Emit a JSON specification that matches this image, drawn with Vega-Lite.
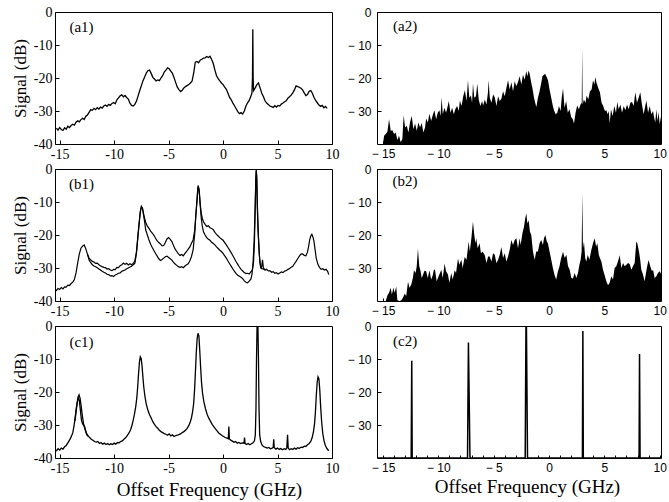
{
"$schema": "https://vega.github.io/schema/vega-lite/v6.json",
"padding": {"left": 10, "top": 4, "right": 0, "bottom": 5},
"columns": 2,
"align": "each",
"bounds": "flush",
"spacing": {"row": 25, "column": 45},
"config": {
 "view": {"stroke": "black", "strokeWidth": 1},
 "axis": {"domain": false, "grid": false, "tickColor": "black", "labelColor": "black", "titleColor": "black", "labelFlush": false, "labelOverlap": false, "titleFontWeight": "normal"}
},
"datasets": {
"a1": [
{"f":-15.3,"s":-35.2},{"f":-15.15,"s":-35.8},{"f":-15.0,"s":-35.0},{"f":-14.85,"s":-35.6},{"f":-14.7,"s":-35.9},{"f":-14.55,"s":-35.1},{"f":-14.4,"s":-35.5},{"f":-14.25,"s":-34.6},{"f":-14.1,"s":-35.0},{"f":-13.95,"s":-34.4},{"f":-13.8,"s":-34.0},{"f":-13.65,"s":-34.3},{"f":-13.5,"s":-33.4},{"f":-13.35,"s":-33.0},{"f":-13.2,"s":-33.3},{"f":-13.05,"s":-32.6},{"f":-12.9,"s":-32.2},{"f":-12.75,"s":-32.6},{"f":-12.6,"s":-31.6},{"f":-12.45,"s":-31.2},{"f":-12.3,"s":-30.4},{"f":-12.15,"s":-29.6},{"f":-12.0,"s":-29.8},{"f":-11.85,"s":-29.2},{"f":-11.7,"s":-29.6},{"f":-11.55,"s":-29.0},{"f":-11.4,"s":-29.4},{"f":-11.25,"s":-28.8},{"f":-11.1,"s":-29.1},{"f":-10.95,"s":-28.5},{"f":-10.8,"s":-28.2},{"f":-10.65,"s":-28.6},{"f":-10.5,"s":-28.0},{"f":-10.35,"s":-28.3},{"f":-10.2,"s":-27.7},{"f":-10.05,"s":-27.4},{"f":-9.9,"s":-27.8},{"f":-9.75,"s":-26.6},{"f":-9.6,"s":-26.0},{"f":-9.45,"s":-25.4},{"f":-9.3,"s":-25.1},{"f":-9.15,"s":-25.7},{"f":-9.0,"s":-25.3},{"f":-8.85,"s":-25.9},{"f":-8.7,"s":-26.4},{"f":-8.55,"s":-27.6},{"f":-8.4,"s":-28.3},{"f":-8.25,"s":-28.5},{"f":-8.1,"s":-28.0},{"f":-7.95,"s":-27.0},{"f":-7.8,"s":-25.4},{"f":-7.65,"s":-23.8},{"f":-7.5,"s":-22.3},{"f":-7.35,"s":-20.8},{"f":-7.2,"s":-19.7},{"f":-7.05,"s":-18.5},{"f":-6.9,"s":-17.8},{"f":-6.75,"s":-17.6},{"f":-6.6,"s":-18.6},{"f":-6.45,"s":-19.8},{"f":-6.3,"s":-20.3},{"f":-6.15,"s":-20.9},{"f":-6.0,"s":-20.6},{"f":-5.85,"s":-20.8},{"f":-5.7,"s":-20.0},{"f":-5.55,"s":-19.3},{"f":-5.4,"s":-18.2},{"f":-5.25,"s":-17.6},{"f":-5.1,"s":-16.9},{"f":-4.95,"s":-17.2},{"f":-4.8,"s":-17.9},{"f":-4.65,"s":-18.6},{"f":-4.5,"s":-19.9},{"f":-4.35,"s":-21.4},{"f":-4.2,"s":-22.8},{"f":-4.05,"s":-23.5},{"f":-3.9,"s":-24.1},{"f":-3.75,"s":-23.7},{"f":-3.6,"s":-23.0},{"f":-3.45,"s":-22.6},{"f":-3.3,"s":-22.3},{"f":-3.15,"s":-22.0},{"f":-3.0,"s":-21.5},{"f":-2.85,"s":-21.0},{"f":-2.7,"s":-18.5},{"f":-2.55,"s":-15.2},{"f":-2.4,"s":-15.0},{"f":-2.25,"s":-15.4},{"f":-2.1,"s":-14.6},{"f":-1.95,"s":-14.3},{"f":-1.8,"s":-14.0},{"f":-1.65,"s":-13.9},{"f":-1.5,"s":-13.5},{"f":-1.35,"s":-13.8},{"f":-1.2,"s":-13.4},{"f":-1.05,"s":-14.4},{"f":-0.9,"s":-15.6},{"f":-0.75,"s":-17.6},{"f":-0.6,"s":-19.3},{"f":-0.45,"s":-20.2},{"f":-0.3,"s":-20.9},{"f":-0.15,"s":-21.5},{"f":0.0,"s":-22.0},{"f":0.15,"s":-22.8},{"f":0.3,"s":-23.4},{"f":0.45,"s":-24.6},{"f":0.6,"s":-25.9},{"f":0.75,"s":-26.6},{"f":0.9,"s":-27.6},{"f":1.05,"s":-28.4},{"f":1.2,"s":-29.3},{"f":1.35,"s":-30.2},{"f":1.5,"s":-30.8},{"f":1.65,"s":-30.5},{"f":1.8,"s":-30.9},{"f":1.95,"s":-30.0},{"f":2.1,"s":-28.5},{"f":2.25,"s":-27.5},{"f":2.4,"s":-26.8},{"f":2.55,"s":-25.5},{"f":2.65,"s":-24.6},{"f":2.7,"s":-20.0},{"f":2.73,"s":-5.2},{"f":2.76,"s":-20.0},{"f":2.8,"s":-23.8},{"f":2.95,"s":-23.0},{"f":3.1,"s":-22.0},{"f":3.25,"s":-21.5},{"f":3.4,"s":-23.0},{"f":3.55,"s":-24.6},{"f":3.7,"s":-25.6},{"f":3.85,"s":-26.9},{"f":4.0,"s":-27.6},{"f":4.15,"s":-28.0},{"f":4.3,"s":-28.5},{"f":4.45,"s":-28.7},{"f":4.6,"s":-28.9},{"f":4.75,"s":-28.4},{"f":4.9,"s":-28.8},{"f":5.05,"s":-28.3},{"f":5.2,"s":-28.5},{"f":5.35,"s":-27.9},{"f":5.5,"s":-27.6},{"f":5.65,"s":-27.2},{"f":5.8,"s":-26.9},{"f":5.95,"s":-26.1},{"f":6.1,"s":-25.7},{"f":6.25,"s":-25.2},{"f":6.4,"s":-24.5},{"f":6.55,"s":-23.6},{"f":6.7,"s":-22.4},{"f":6.85,"s":-22.6},{"f":7.0,"s":-22.8},{"f":7.15,"s":-23.1},{"f":7.3,"s":-23.6},{"f":7.45,"s":-24.5},{"f":7.6,"s":-25.3},{"f":7.75,"s":-25.0},{"f":7.9,"s":-24.0},{"f":8.05,"s":-23.8},{"f":8.2,"s":-24.6},{"f":8.35,"s":-25.9},{"f":8.5,"s":-26.8},{"f":8.65,"s":-27.5},{"f":8.8,"s":-28.2},{"f":8.95,"s":-28.6},{"f":9.1,"s":-28.3},{"f":9.25,"s":-29.0},{"f":9.4,"s":-28.6},{"f":9.55,"s":-29.2}
],
"a2": [
{"f":-15.6,"s":-40},{"f":-15.0,"s":-40},{"f":-14.9,"s":-37.5},{"f":-14.75,"s":-37.0},{"f":-14.6,"s":-36.3},{"f":-14.45,"s":-32.5},{"f":-14.3,"s":-36.0},{"f":-14.15,"s":-35.8},{"f":-14.0,"s":-37.0},{"f":-13.85,"s":-36.5},{"f":-13.7,"s":-38.8},{"f":-13.55,"s":-37.5},{"f":-13.4,"s":-39.5},{"f":-13.25,"s":-38.5},{"f":-13.13,"s":-31.3},{"f":-13.0,"s":-35.0},{"f":-12.85,"s":-34.5},{"f":-12.7,"s":-36.5},{"f":-12.55,"s":-33.3},{"f":-12.4,"s":-31.5},{"f":-12.25,"s":-35.5},{"f":-12.1,"s":-33.8},{"f":-11.95,"s":-36.0},{"f":-11.8,"s":-33.5},{"f":-11.65,"s":-35.0},{"f":-11.5,"s":-33.6},{"f":-11.35,"s":-36.5},{"f":-11.2,"s":-35.0},{"f":-11.1,"s":-32.3},{"f":-10.95,"s":-33.5},{"f":-10.8,"s":-30.8},{"f":-10.65,"s":-33.0},{"f":-10.5,"s":-31.2},{"f":-10.35,"s":-29.8},{"f":-10.2,"s":-32.5},{"f":-10.05,"s":-30.5},{"f":-9.9,"s":-29.8},{"f":-9.8,"s":-31.5},{"f":-9.7,"s":-25.8},{"f":-9.6,"s":-31.0},{"f":-9.45,"s":-29.0},{"f":-9.3,"s":-30.5},{"f":-9.15,"s":-28.5},{"f":-9.05,"s":-27.0},{"f":-8.9,"s":-30.5},{"f":-8.75,"s":-29.0},{"f":-8.6,"s":-31.0},{"f":-8.45,"s":-29.3},{"f":-8.3,"s":-28.5},{"f":-8.15,"s":-30.0},{"f":-8.05,"s":-26.8},{"f":-7.9,"s":-28.5},{"f":-7.75,"s":-25.5},{"f":-7.6,"s":-23.7},{"f":-7.45,"s":-27.0},{"f":-7.32,"s":-20.7},{"f":-7.2,"s":-26.0},{"f":-7.05,"s":-25.3},{"f":-6.95,"s":-27.5},{"f":-6.87,"s":-21.7},{"f":-6.75,"s":-26.0},{"f":-6.6,"s":-25.5},{"f":-6.48,"s":-21.7},{"f":-6.35,"s":-26.5},{"f":-6.2,"s":-28.5},{"f":-6.05,"s":-27.0},{"f":-5.95,"s":-28.3},{"f":-5.8,"s":-26.5},{"f":-5.65,"s":-28.0},{"f":-5.52,"s":-24.5},{"f":-5.45,"s":-20.7},{"f":-5.35,"s":-26.0},{"f":-5.2,"s":-27.5},{"f":-5.05,"s":-25.0},{"f":-4.9,"s":-25.8},{"f":-4.75,"s":-28.5},{"f":-4.6,"s":-25.5},{"f":-4.45,"s":-27.0},{"f":-4.3,"s":-26.3},{"f":-4.15,"s":-24.0},{"f":-4.0,"s":-25.5},{"f":-3.85,"s":-23.0},{"f":-3.7,"s":-20.7},{"f":-3.55,"s":-23.5},{"f":-3.4,"s":-21.3},{"f":-3.25,"s":-24.0},{"f":-3.1,"s":-21.0},{"f":-2.95,"s":-22.5},{"f":-2.8,"s":-21.2},{"f":-2.65,"s":-19.5},{"f":-2.5,"s":-22.0},{"f":-2.35,"s":-19.0},{"f":-2.2,"s":-20.5},{"f":-2.05,"s":-17.9},{"f":-1.95,"s":-19.5},{"f":-1.85,"s":-17.7},{"f":-1.75,"s":-18.7},{"f":-1.6,"s":-21.5},{"f":-1.5,"s":-23.0},{"f":-1.36,"s":-25.8},{"f":-1.25,"s":-27.5},{"f":-1.14,"s":-28.8},{"f":-1.0,"s":-26.0},{"f":-0.85,"s":-24.0},{"f":-0.7,"s":-21.5},{"f":-0.6,"s":-19.5},{"f":-0.5,"s":-19.2},{"f":-0.35,"s":-18.7},{"f":-0.2,"s":-19.8},{"f":-0.09,"s":-20.7},{"f":0.05,"s":-23.5},{"f":0.2,"s":-26.0},{"f":0.35,"s":-28.5},{"f":0.45,"s":-29.8},{"f":0.6,"s":-31.0},{"f":0.75,"s":-30.5},{"f":0.9,"s":-28.5},{"f":1.05,"s":-30.0},{"f":1.15,"s":-26.0},{"f":1.27,"s":-23.2},{"f":1.4,"s":-29.0},{"f":1.55,"s":-27.0},{"f":1.7,"s":-30.5},{"f":1.85,"s":-29.5},{"f":2.0,"s":-31.8},{"f":2.15,"s":-32.5},{"f":2.26,"s":-33.8},{"f":2.4,"s":-30.5},{"f":2.55,"s":-28.3},{"f":2.7,"s":-29.5},{"f":2.85,"s":-28.0},{"f":2.96,"s":-27.5},{"f":3.0,"s":-10.7},{"f":3.04,"s":-28.0},{"f":3.15,"s":-26.5},{"f":3.3,"s":-27.5},{"f":3.4,"s":-25.3},{"f":3.55,"s":-26.5},{"f":3.7,"s":-24.0},{"f":3.85,"s":-23.5},{"f":3.98,"s":-20.7},{"f":4.1,"s":-22.0},{"f":4.19,"s":-19.7},{"f":4.3,"s":-21.5},{"f":4.45,"s":-23.0},{"f":4.6,"s":-24.3},{"f":4.75,"s":-27.5},{"f":4.9,"s":-28.5},{"f":5.05,"s":-30.0},{"f":5.18,"s":-29.8},{"f":5.3,"s":-31.0},{"f":5.4,"s":-30.0},{"f":5.48,"s":-33.8},{"f":5.6,"s":-29.5},{"f":5.75,"s":-31.5},{"f":5.9,"s":-28.5},{"f":6.05,"s":-30.5},{"f":6.17,"s":-27.3},{"f":6.3,"s":-29.5},{"f":6.45,"s":-28.0},{"f":6.6,"s":-30.5},{"f":6.75,"s":-28.5},{"f":6.9,"s":-29.8},{"f":7.05,"s":-28.0},{"f":7.2,"s":-29.5},{"f":7.35,"s":-27.5},{"f":7.5,"s":-27.3},{"f":7.65,"s":-28.5},{"f":7.8,"s":-24.3},{"f":7.95,"s":-27.5},{"f":8.1,"s":-26.0},{"f":8.25,"s":-24.3},{"f":8.4,"s":-28.0},{"f":8.55,"s":-31.0},{"f":8.7,"s":-28.5},{"f":8.8,"s":-26.8},{"f":8.95,"s":-30.5},{"f":9.1,"s":-28.5},{"f":9.25,"s":-31.0},{"f":9.4,"s":-30.0},{"f":9.49,"s":-31.8},{"f":9.6,"s":-33.5},{"f":9.7,"s":-29.5},{"f":9.8,"s":-33.0},{"f":9.9,"s":-30.3},{"f":10.0,"s":-34.0},{"f":10.15,"s":-31.0}
],
"b1": [
{"k":"u","f":-15.45,"s":-36.6},{"k":"u","f":-15.3,"s":-36.8},{"k":"u","f":-15.15,"s":-36.2},{"k":"u","f":-15.0,"s":-36.5},{"k":"u","f":-14.85,"s":-35.9},{"k":"u","f":-14.7,"s":-36.3},{"k":"u","f":-14.55,"s":-35.7},{"k":"u","f":-14.4,"s":-35.8},{"k":"u","f":-14.25,"s":-35.2},{"k":"u","f":-14.1,"s":-35.3},{"k":"u","f":-13.95,"s":-34.7},{"k":"u","f":-13.8,"s":-34.3},{"k":"u","f":-13.65,"s":-33.5},{"k":"u","f":-13.5,"s":-31.5},{"k":"u","f":-13.35,"s":-28.5},{"k":"u","f":-13.2,"s":-25.8},{"k":"u","f":-13.05,"s":-24.0},{"k":"u","f":-12.9,"s":-23.4},{"k":"u","f":-12.75,"s":-23.0},{"k":"u","f":-12.6,"s":-24.2},{"k":"u","f":-12.45,"s":-25.8},
{"k":"u","f":-12.3,"s":-27.0},{"k":"u","f":-12.15,"s":-27.6},{"k":"u","f":-12.0,"s":-28.0},{"k":"u","f":-11.85,"s":-28.2},{"k":"u","f":-11.7,"s":-28.6},{"k":"u","f":-11.55,"s":-28.5},{"k":"u","f":-11.4,"s":-29.0},{"k":"u","f":-11.25,"s":-29.3},{"k":"u","f":-11.1,"s":-29.6},{"k":"u","f":-10.95,"s":-29.8},{"k":"u","f":-10.8,"s":-29.9},{"k":"u","f":-10.65,"s":-30.3},{"k":"u","f":-10.5,"s":-30.2},{"k":"u","f":-10.35,"s":-30.6},{"k":"u","f":-10.2,"s":-30.8},{"k":"u","f":-10.05,"s":-30.4},{"k":"u","f":-9.9,"s":-30.5},{"k":"u","f":-9.75,"s":-29.8},{"k":"u","f":-9.6,"s":-29.9},{"k":"u","f":-9.45,"s":-29.3},{"k":"u","f":-9.3,"s":-29.0},{"k":"u","f":-9.15,"s":-28.5},{"k":"u","f":-9.0,"s":-28.9},{"k":"u","f":-8.85,"s":-28.6},{"k":"u","f":-8.7,"s":-29.1},{"k":"u","f":-8.55,"s":-28.7},{"k":"u","f":-8.4,"s":-29.0},{"k":"u","f":-8.25,"s":-28.6},{"k":"u","f":-8.1,"s":-27.9},
{"k":"u","f":-7.95,"s":-25.0},{"k":"u","f":-7.8,"s":-19.5},{"k":"u","f":-7.7,"s":-16.0},{"k":"u","f":-7.6,"s":-13.0},{"k":"u","f":-7.5,"s":-11.5},{"k":"u","f":-7.4,"s":-11.8},{"k":"u","f":-7.3,"s":-13.5},{"k":"u","f":-7.2,"s":-15.0},
{"k":"u","f":-7.1,"s":-16.2},{"k":"u","f":-6.95,"s":-17.3},{"k":"u","f":-6.8,"s":-18.0},{"k":"u","f":-6.65,"s":-18.8},{"k":"u","f":-6.5,"s":-19.4},{"k":"u","f":-6.35,"s":-20.1},{"k":"u","f":-6.2,"s":-21.0},{"k":"u","f":-6.05,"s":-21.8},{"k":"u","f":-5.9,"s":-22.3},{"k":"u","f":-5.75,"s":-22.7},{"k":"u","f":-5.6,"s":-23.3},{"k":"u","f":-5.45,"s":-23.2},{"k":"u","f":-5.3,"s":-22.3},{"k":"u","f":-5.15,"s":-21.2},{"k":"u","f":-5.0,"s":-20.8},{"k":"u","f":-4.85,"s":-21.3},{"k":"u","f":-4.7,"s":-22.0},{"k":"u","f":-4.55,"s":-23.2},{"k":"u","f":-4.4,"s":-24.3},{"k":"u","f":-4.25,"s":-25.0},{"k":"u","f":-4.1,"s":-25.7},{"k":"u","f":-3.95,"s":-26.2},{"k":"u","f":-3.8,"s":-25.9},{"k":"u","f":-3.65,"s":-26.3},{"k":"u","f":-3.5,"s":-25.6},{"k":"u","f":-3.35,"s":-25.0},{"k":"u","f":-3.2,"s":-24.3},{"k":"u","f":-3.05,"s":-23.6},{"k":"u","f":-2.9,"s":-22.5},{"k":"u","f":-2.75,"s":-21.5},{"k":"u","f":-2.6,"s":-18.5},{"k":"u","f":-2.5,"s":-14.0},{"k":"u","f":-2.4,"s":-10.0},{"k":"u","f":-2.3,"s":-5.5},{"k":"u","f":-2.2,"s":-6.5},{"k":"u","f":-2.1,"s":-10.5},{"k":"u","f":-2.0,"s":-13.5},{"k":"u","f":-1.9,"s":-15.0},{"k":"u","f":-1.8,"s":-16.0},{"k":"u","f":-1.65,"s":-16.8},{"k":"u","f":-1.5,"s":-17.4},{"k":"u","f":-1.35,"s":-17.2},{"k":"u","f":-1.2,"s":-17.8},{"k":"u","f":-1.05,"s":-18.0},{"k":"u","f":-0.9,"s":-18.4},{"k":"u","f":-0.75,"s":-19.2},{"k":"u","f":-0.6,"s":-19.8},{"k":"u","f":-0.45,"s":-20.3},{"k":"u","f":-0.3,"s":-20.8},{"k":"u","f":-0.15,"s":-21.2},{"k":"u","f":0.0,"s":-21.6},{"k":"u","f":0.15,"s":-22.3},{"k":"u","f":0.3,"s":-23.0},{"k":"u","f":0.45,"s":-23.8},{"k":"u","f":0.6,"s":-24.6},{"k":"u","f":0.75,"s":-25.4},{"k":"u","f":0.9,"s":-26.3},{"k":"u","f":1.05,"s":-27.2},{"k":"u","f":1.2,"s":-28.1},{"k":"u","f":1.35,"s":-28.9},{"k":"u","f":1.5,"s":-29.7},{"k":"u","f":1.65,"s":-30.4},{"k":"u","f":1.8,"s":-30.9},{"k":"u","f":1.95,"s":-31.4},{"k":"u","f":2.1,"s":-31.7},{"k":"u","f":2.25,"s":-31.6},{"k":"u","f":2.4,"s":-31.8},{"k":"u","f":2.55,"s":-31.2},{"k":"u","f":2.7,"s":-30.6},{"k":"u","f":2.8,"s":-28.0},{"k":"u","f":2.88,"s":-22.0},{"k":"u","f":2.95,"s":-12.0},{"k":"u","f":3.0,"s":-3.0},{"k":"u","f":3.04,"s":-0.5},{"k":"u","f":3.08,"s":-2.0},{"k":"u","f":3.13,"s":-10.0},{"k":"u","f":3.2,"s":-18.0},{"k":"u","f":3.28,"s":-23.0},{"k":"u","f":3.36,"s":-27.5},{"k":"u","f":3.45,"s":-29.5},{"k":"u","f":3.55,"s":-30.2},{"k":"u","f":3.7,"s":-30.3},
{"k":"u","f":3.85,"s":-30.6},{"k":"u","f":4.0,"s":-30.4},{"k":"u","f":4.15,"s":-30.9},{"k":"u","f":4.3,"s":-30.8},{"k":"u","f":4.45,"s":-31.3},{"k":"u","f":4.6,"s":-31.1},{"k":"u","f":4.75,"s":-31.6},{"k":"u","f":4.9,"s":-31.4},{"k":"u","f":5.05,"s":-31.8},{"k":"u","f":5.2,"s":-31.5},{"k":"u","f":5.35,"s":-31.2},{"k":"u","f":5.5,"s":-31.4},{"k":"u","f":5.65,"s":-30.9},{"k":"u","f":5.8,"s":-30.8},{"k":"u","f":5.95,"s":-30.4},{"k":"u","f":6.1,"s":-30.2},{"k":"u","f":6.25,"s":-29.8},{"k":"u","f":6.4,"s":-29.5},{"k":"u","f":6.55,"s":-28.7},{"k":"u","f":6.7,"s":-28.0},{"k":"u","f":6.85,"s":-27.2},{"k":"u","f":7.0,"s":-26.4},{"k":"u","f":7.15,"s":-25.8},{"k":"u","f":7.3,"s":-25.7},{"k":"u","f":7.45,"s":-26.2},{"k":"u","f":7.6,"s":-26.3},{"k":"u","f":7.75,"s":-25.2},{"k":"u","f":7.85,"s":-23.5},{"k":"u","f":7.95,"s":-21.5},{"k":"u","f":8.05,"s":-20.3},{"k":"u","f":8.15,"s":-19.8},{"k":"u","f":8.25,"s":-20.6},{"k":"u","f":8.35,"s":-22.0},{"k":"u","f":8.45,"s":-24.5},{"k":"u","f":8.55,"s":-27.0},{"k":"u","f":8.7,"s":-28.8},{"k":"u","f":8.85,"s":-29.8},{"k":"u","f":9.0,"s":-30.4},{"k":"u","f":9.15,"s":-30.2},{"k":"u","f":9.3,"s":-30.6},{"k":"u","f":9.45,"s":-30.4},{"k":"u","f":9.6,"s":-31.0},{"k":"u","f":9.7,"s":-32.0},
{"k":"l","f":-12.45,"s":-25.8},{"k":"l","f":-12.3,"s":-27.6},{"k":"l","f":-12.15,"s":-28.4},{"k":"l","f":-12.0,"s":-29.0},{"k":"l","f":-11.85,"s":-29.4},{"k":"l","f":-11.7,"s":-29.6},{"k":"l","f":-11.55,"s":-29.9},{"k":"l","f":-11.4,"s":-30.3},{"k":"l","f":-11.25,"s":-30.6},{"k":"l","f":-11.1,"s":-31.0},{"k":"l","f":-10.95,"s":-31.3},{"k":"l","f":-10.8,"s":-31.5},{"k":"l","f":-10.65,"s":-31.9},{"k":"l","f":-10.5,"s":-32.0},{"k":"l","f":-10.35,"s":-32.4},{"k":"l","f":-10.2,"s":-32.3},{"k":"l","f":-10.05,"s":-32.6},{"k":"l","f":-9.9,"s":-32.1},{"k":"l","f":-9.75,"s":-31.9},{"k":"l","f":-9.6,"s":-31.6},{"k":"l","f":-9.45,"s":-31.5},{"k":"l","f":-9.3,"s":-31.0},{"k":"l","f":-9.15,"s":-30.8},{"k":"l","f":-9.0,"s":-30.6},{"k":"l","f":-8.85,"s":-30.2},{"k":"l","f":-8.7,"s":-30.0},{"k":"l","f":-8.55,"s":-29.7},{"k":"l","f":-8.4,"s":-29.5},{"k":"l","f":-8.25,"s":-29.0},{"k":"l","f":-8.1,"s":-28.6},
{"k":"l","f":-7.95,"s":-25.5},{"k":"l","f":-7.8,"s":-20.0},{"k":"l","f":-7.7,"s":-16.5},{"k":"l","f":-7.6,"s":-13.0},{"k":"l","f":-7.5,"s":-11.3},{"k":"l","f":-7.4,"s":-12.0},{"k":"l","f":-7.3,"s":-14.0},{"k":"l","f":-7.2,"s":-16.0},
{"k":"l","f":-7.1,"s":-18.5},{"k":"l","f":-6.95,"s":-20.0},{"k":"l","f":-6.8,"s":-21.5},{"k":"l","f":-6.65,"s":-22.8},{"k":"l","f":-6.5,"s":-23.8},{"k":"l","f":-6.35,"s":-24.7},{"k":"l","f":-6.2,"s":-25.6},{"k":"l","f":-6.05,"s":-26.4},{"k":"l","f":-5.9,"s":-27.2},{"k":"l","f":-5.75,"s":-27.7},{"k":"l","f":-5.6,"s":-27.4},{"k":"l","f":-5.45,"s":-27.0},{"k":"l","f":-5.3,"s":-26.6},{"k":"l","f":-5.15,"s":-26.4},{"k":"l","f":-5.0,"s":-26.8},{"k":"l","f":-4.85,"s":-27.2},{"k":"l","f":-4.7,"s":-27.6},{"k":"l","f":-4.55,"s":-28.3},{"k":"l","f":-4.4,"s":-28.8},{"k":"l","f":-4.25,"s":-29.2},{"k":"l","f":-4.1,"s":-29.6},{"k":"l","f":-3.95,"s":-29.8},{"k":"l","f":-3.8,"s":-29.6},{"k":"l","f":-3.65,"s":-29.9},{"k":"l","f":-3.5,"s":-29.4},{"k":"l","f":-3.35,"s":-29.0},{"k":"l","f":-3.2,"s":-28.7},{"k":"l","f":-3.05,"s":-27.8},{"k":"l","f":-2.9,"s":-26.5},{"k":"l","f":-2.75,"s":-24.5},{"k":"l","f":-2.6,"s":-19.5},{"k":"l","f":-2.5,"s":-14.0},{"k":"l","f":-2.4,"s":-9.5},{"k":"l","f":-2.3,"s":-5.0},{"k":"l","f":-2.2,"s":-6.0},{"k":"l","f":-2.1,"s":-11.0},{"k":"l","f":-2.0,"s":-15.0},{"k":"l","f":-1.9,"s":-17.5},{"k":"l","f":-1.8,"s":-19.0},{"k":"l","f":-1.65,"s":-20.0},{"k":"l","f":-1.5,"s":-20.8},{"k":"l","f":-1.35,"s":-21.3},{"k":"l","f":-1.2,"s":-21.6},{"k":"l","f":-1.05,"s":-22.2},{"k":"l","f":-0.9,"s":-22.6},{"k":"l","f":-0.75,"s":-23.0},{"k":"l","f":-0.6,"s":-23.6},{"k":"l","f":-0.45,"s":-24.1},{"k":"l","f":-0.3,"s":-24.6},{"k":"l","f":-0.15,"s":-25.0},{"k":"l","f":0.0,"s":-25.6},{"k":"l","f":0.15,"s":-26.3},{"k":"l","f":0.3,"s":-27.0},{"k":"l","f":0.45,"s":-27.9},{"k":"l","f":0.6,"s":-28.7},{"k":"l","f":0.75,"s":-29.5},{"k":"l","f":0.9,"s":-30.3},{"k":"l","f":1.05,"s":-31.0},{"k":"l","f":1.2,"s":-31.7},{"k":"l","f":1.35,"s":-32.2},{"k":"l","f":1.5,"s":-32.5},{"k":"l","f":1.65,"s":-32.8},{"k":"l","f":1.8,"s":-33.2},{"k":"l","f":1.95,"s":-33.9},{"k":"l","f":2.1,"s":-34.3},{"k":"l","f":2.25,"s":-34.5},{"k":"l","f":2.4,"s":-34.0},{"k":"l","f":2.55,"s":-33.4},{"k":"l","f":2.65,"s":-32.0},{"k":"l","f":2.75,"s":-28.5},{"k":"l","f":2.85,"s":-22.0},{"k":"l","f":2.93,"s":-13.0},{"k":"l","f":3.0,"s":-5.0},{"k":"l","f":3.05,"s":-0.3},{"k":"l","f":3.1,"s":-3.0},{"k":"l","f":3.16,"s":-12.0},{"k":"l","f":3.24,"s":-20.0},{"k":"l","f":3.32,"s":-25.5},{"k":"l","f":3.4,"s":-28.8},{"k":"l","f":3.48,"s":-30.2},{"k":"l","f":3.55,"s":-29.5},{"k":"l","f":3.62,"s":-27.5},{"k":"l","f":3.7,"s":-30.0},{"k":"l","f":3.85,"s":-30.6}
],
"b2": [
{"f":-15.6,"s":-40},{"f":-14.75,"s":-40},{"f":-14.6,"s":-38.3},{"f":-14.45,"s":-37.5},{"f":-14.3,"s":-36.0},{"f":-14.2,"s":-38.0},{"f":-14.05,"s":-36.0},{"f":-13.95,"s":-37.5},{"f":-13.8,"s":-35.7},{"f":-13.7,"s":-39.8},{"f":-13.5,"s":-40},{"f":-13.34,"s":-39.8},{"f":-13.2,"s":-39.0},{"f":-13.04,"s":-37.8},{"f":-12.9,"s":-38.5},{"f":-12.74,"s":-34.2},{"f":-12.6,"s":-36.0},{"f":-12.44,"s":-35.0},{"f":-12.3,"s":-33.0},{"f":-12.2,"s":-30.7},{"f":-12.05,"s":-31.5},{"f":-11.95,"s":-29.5},{"f":-11.84,"s":-24.1},{"f":-11.72,"s":-29.5},{"f":-11.6,"s":-31.0},{"f":-11.5,"s":-33.0},{"f":-11.4,"s":-32.2},{"f":-11.25,"s":-30.8},{"f":-11.1,"s":-31.0},{"f":-10.95,"s":-33.0},{"f":-10.8,"s":-30.7},{"f":-10.65,"s":-33.5},{"f":-10.5,"s":-32.2},{"f":-10.4,"s":-30.5},{"f":-10.3,"s":-30.5},{"f":-10.15,"s":-34.0},{"f":-10.0,"s":-32.7},{"f":-9.85,"s":-31.5},{"f":-9.73,"s":-30.5},{"f":-9.6,"s":-33.0},{"f":-9.43,"s":-28.6},{"f":-9.3,"s":-31.0},{"f":-9.13,"s":-32.0},{"f":-9.0,"s":-34.5},{"f":-8.83,"s":-31.5},{"f":-8.7,"s":-33.5},{"f":-8.52,"s":-30.7},{"f":-8.4,"s":-31.5},{"f":-8.22,"s":-27.1},{"f":-8.1,"s":-29.0},{"f":-7.92,"s":-27.5},{"f":-7.8,"s":-30.0},{"f":-7.62,"s":-26.7},{"f":-7.45,"s":-27.5},{"f":-7.26,"s":-22.0},{"f":-7.15,"s":-25.0},{"f":-7.0,"s":-20.5},{"f":-6.87,"s":-15.9},{"f":-6.75,"s":-20.0},{"f":-6.65,"s":-22.5},{"f":-6.57,"s":-21.0},{"f":-6.45,"s":-24.0},{"f":-6.27,"s":-22.5},{"f":-6.15,"s":-25.5},{"f":-6.0,"s":-25.0},{"f":-5.8,"s":-26.1},{"f":-5.65,"s":-28.5},{"f":-5.5,"s":-26.5},{"f":-5.36,"s":-26.5},{"f":-5.2,"s":-28.0},{"f":-5.05,"s":-25.5},{"f":-4.9,"s":-26.0},{"f":-4.75,"s":-28.5},{"f":-4.6,"s":-27.5},{"f":-4.45,"s":-26.0},{"f":-4.3,"s":-23.6},{"f":-4.15,"s":-27.0},{"f":-4.0,"s":-25.5},{"f":-3.85,"s":-28.0},{"f":-3.7,"s":-26.5},{"f":-3.55,"s":-24.5},{"f":-3.4,"s":-21.5},{"f":-3.25,"s":-23.0},{"f":-3.1,"s":-21.5},{"f":-2.95,"s":-21.0},{"f":-2.8,"s":-24.0},{"f":-2.65,"s":-21.0},{"f":-2.56,"s":-23.0},{"f":-2.4,"s":-19.5},{"f":-2.26,"s":-17.5},{"f":-2.15,"s":-15.0},{"f":-2.05,"s":-13.4},{"f":-1.95,"s":-16.5},{"f":-1.84,"s":-15.5},{"f":-1.72,"s":-19.0},{"f":-1.6,"s":-20.0},{"f":-1.45,"s":-25.0},{"f":-1.3,"s":-27.5},{"f":-1.15,"s":-25.0},{"f":-1.0,"s":-25.0},{"f":-0.85,"s":-22.5},{"f":-0.7,"s":-21.5},{"f":-0.55,"s":-23.0},{"f":-0.45,"s":-21.0},{"f":-0.33,"s":-20.0},{"f":-0.2,"s":-22.0},{"f":-0.1,"s":-22.5},{"f":0.05,"s":-25.0},{"f":0.21,"s":-27.6},{"f":0.35,"s":-30.0},{"f":0.51,"s":-32.2},{"f":0.65,"s":-33.5},{"f":0.81,"s":-31.0},{"f":0.95,"s":-29.5},{"f":1.1,"s":-27.0},{"f":1.27,"s":-25.1},{"f":1.42,"s":-27.0},{"f":1.57,"s":-26.0},{"f":1.72,"s":-29.5},{"f":1.87,"s":-30.5},{"f":2.02,"s":-33.0},{"f":2.17,"s":-33.2},{"f":2.32,"s":-31.5},{"f":2.47,"s":-33.0},{"f":2.62,"s":-31.5},{"f":2.75,"s":-29.0},{"f":2.86,"s":-27.5},{"f":2.95,"s":-25.0},{"f":3.01,"s":-7.3},{"f":3.07,"s":-24.0},{"f":3.16,"s":-22.0},{"f":3.27,"s":-27.0},{"f":3.37,"s":-28.0},{"f":3.5,"s":-26.0},{"f":3.65,"s":-27.5},{"f":3.83,"s":-24.5},{"f":3.98,"s":-22.5},{"f":4.13,"s":-21.0},{"f":4.25,"s":-23.5},{"f":4.37,"s":-22.5},{"f":4.5,"s":-26.0},{"f":4.6,"s":-27.0},{"f":4.73,"s":-28.0},{"f":4.88,"s":-30.5},{"f":5.03,"s":-32.2},{"f":5.18,"s":-34.0},{"f":5.33,"s":-35.2},{"f":5.48,"s":-34.5},{"f":5.63,"s":-32.5},{"f":5.78,"s":-33.5},{"f":5.93,"s":-30.0},{"f":6.08,"s":-29.5},{"f":6.23,"s":-28.0},{"f":6.39,"s":-26.1},{"f":6.54,"s":-30.0},{"f":6.69,"s":-28.5},{"f":6.84,"s":-29.5},{"f":6.99,"s":-29.0},{"f":7.14,"s":-28.5},{"f":7.29,"s":-28.8},{"f":7.44,"s":-30.5},{"f":7.59,"s":-29.5},{"f":7.74,"s":-28.5},{"f":7.89,"s":-22.0},{"f":7.98,"s":-22.5},{"f":8.13,"s":-25.0},{"f":8.24,"s":-27.5},{"f":8.34,"s":-30.5},{"f":8.49,"s":-32.0},{"f":8.64,"s":-34.0},{"f":8.79,"s":-31.0},{"f":8.9,"s":-29.0},{"f":9.0,"s":-27.6},{"f":9.15,"s":-29.5},{"f":9.3,"s":-31.0},{"f":9.4,"s":-30.5},{"f":9.55,"s":-33.0},{"f":9.7,"s":-32.5},{"f":9.85,"s":-31.5},{"f":10.0,"s":-31.0},{"f":10.15,"s":-32.0}
],
"c1": [
{"k":"m","f":-15.45,"s":-38.0},{"k":"m","f":-15.3,"s":-37.8},{"k":"m","f":-15.15,"s":-37.2},{"k":"m","f":-15.0,"s":-37.6},{"k":"m","f":-14.85,"s":-37.0},{"k":"m","f":-14.7,"s":-37.3},{"k":"m","f":-14.55,"s":-36.6},{"k":"m","f":-14.4,"s":-36.2},{"k":"m","f":-14.25,"s":-35.4},{"k":"m","f":-14.1,"s":-34.6},{"k":"m","f":-13.95,"s":-33.6},{"k":"m","f":-13.8,"s":-32.4},{"k":"m","f":-13.7,"s":-30.6},{"k":"m","f":-13.6,"s":-28.4},{"k":"m","f":-13.5,"s":-25.5},{"k":"m","f":-13.4,"s":-23.2},{"k":"m","f":-13.3,"s":-21.5},{"k":"m","f":-13.22,"s":-20.9},{"k":"m","f":-13.12,"s":-22.0},{"k":"m","f":-13.02,"s":-24.5},{"k":"m","f":-12.92,"s":-27.2},{"k":"m","f":-12.8,"s":-29.8},{"k":"m","f":-12.68,"s":-31.2},{"k":"m","f":-12.55,"s":-32.5},{"k":"m","f":-12.4,"s":-33.2},{"k":"m","f":-12.25,"s":-33.8},{"k":"m","f":-12.1,"s":-34.3},{"k":"m","f":-11.95,"s":-34.6},{"k":"m","f":-11.8,"s":-35.0},{"k":"m","f":-11.65,"s":-35.2},{"k":"m","f":-11.5,"s":-35.0},{"k":"m","f":-11.35,"s":-35.6},{"k":"m","f":-11.2,"s":-35.3},{"k":"m","f":-11.05,"s":-35.8},{"k":"m","f":-10.9,"s":-35.5},{"k":"m","f":-10.75,"s":-35.9},{"k":"m","f":-10.6,"s":-35.6},{"k":"m","f":-10.45,"s":-36.0},{"k":"m","f":-10.3,"s":-35.7},{"k":"m","f":-10.15,"s":-35.9},{"k":"m","f":-10.0,"s":-35.5},{"k":"m","f":-9.85,"s":-35.8},{"k":"m","f":-9.7,"s":-35.3},{"k":"m","f":-9.55,"s":-35.4},{"k":"m","f":-9.4,"s":-35.0},{"k":"m","f":-9.25,"s":-34.8},{"k":"m","f":-9.1,"s":-34.3},{"k":"m","f":-8.95,"s":-33.9},{"k":"m","f":-8.8,"s":-33.2},{"k":"m","f":-8.65,"s":-32.5},{"k":"m","f":-8.5,"s":-31.5},{"k":"m","f":-8.38,"s":-30.3},{"k":"m","f":-8.26,"s":-28.7},{"k":"m","f":-8.14,"s":-26.8},{"k":"m","f":-8.02,"s":-24.5},{"k":"m","f":-7.92,"s":-21.8},{"k":"m","f":-7.84,"s":-18.5},{"k":"m","f":-7.76,"s":-14.5},{"k":"m","f":-7.68,"s":-11.0},{"k":"m","f":-7.6,"s":-9.3},{"k":"m","f":-7.52,"s":-9.8},{"k":"m","f":-7.44,"s":-12.0},{"k":"m","f":-7.36,"s":-15.5},{"k":"m","f":-7.28,"s":-18.5},{"k":"m","f":-7.18,"s":-21.2},{"k":"m","f":-7.06,"s":-23.5},{"k":"m","f":-6.92,"s":-25.3},{"k":"m","f":-6.76,"s":-26.8},{"k":"m","f":-6.6,"s":-27.9},{"k":"m","f":-6.45,"s":-29.0},{"k":"m","f":-6.3,"s":-29.8},{"k":"m","f":-6.15,"s":-30.5},{"k":"m","f":-6.0,"s":-31.0},{"k":"m","f":-5.85,"s":-31.6},{"k":"m","f":-5.7,"s":-32.0},{"k":"m","f":-5.55,"s":-32.3},{"k":"m","f":-5.4,"s":-32.6},{"k":"m","f":-5.25,"s":-32.8},{"k":"m","f":-5.1,"s":-33.1},{"k":"m","f":-4.95,"s":-32.7},{"k":"m","f":-4.8,"s":-33.3},{"k":"m","f":-4.65,"s":-33.0},{"k":"m","f":-4.5,"s":-33.5},{"k":"m","f":-4.35,"s":-33.2},{"k":"m","f":-4.2,"s":-33.1},{"k":"m","f":-4.05,"s":-32.9},{"k":"m","f":-3.9,"s":-32.7},{"k":"m","f":-3.75,"s":-32.3},{"k":"m","f":-3.6,"s":-32.0},{"k":"m","f":-3.45,"s":-31.6},{"k":"m","f":-3.3,"s":-31.0},{"k":"m","f":-3.15,"s":-30.2},{"k":"m","f":-3.02,"s":-29.2},{"k":"m","f":-2.9,"s":-27.8},{"k":"m","f":-2.8,"s":-26.0},{"k":"m","f":-2.7,"s":-23.5},{"k":"m","f":-2.62,"s":-19.5},{"k":"m","f":-2.54,"s":-14.0},{"k":"m","f":-2.46,"s":-8.0},{"k":"m","f":-2.38,"s":-3.8},{"k":"m","f":-2.3,"s":-2.2},{"k":"m","f":-2.22,"s":-3.0},{"k":"m","f":-2.14,"s":-7.5},{"k":"m","f":-2.06,"s":-12.5},{"k":"m","f":-1.98,"s":-17.0},{"k":"m","f":-1.88,"s":-20.5},{"k":"m","f":-1.76,"s":-23.0},{"k":"m","f":-1.62,"s":-25.0},{"k":"m","f":-1.46,"s":-26.8},{"k":"m","f":-1.3,"s":-28.0},{"k":"m","f":-1.15,"s":-28.9},{"k":"m","f":-1.0,"s":-29.8},{"k":"m","f":-0.85,"s":-30.5},{"k":"m","f":-0.7,"s":-31.2},{"k":"m","f":-0.55,"s":-31.8},{"k":"m","f":-0.4,"s":-32.4},{"k":"m","f":-0.25,"s":-32.8},{"k":"m","f":-0.1,"s":-33.2},{"k":"m","f":0.05,"s":-33.5},{"k":"m","f":0.2,"s":-33.8},{"k":"m","f":0.35,"s":-34.0},{"k":"m","f":0.48,"s":-34.2},{"k":"m","f":0.53,"s":-30.5},{"k":"m","f":0.58,"s":-34.2},{"k":"m","f":0.7,"s":-34.6},{"k":"m","f":0.85,"s":-34.9},{"k":"m","f":1.0,"s":-35.2},{"k":"m","f":1.15,"s":-35.0},{"k":"m","f":1.3,"s":-35.5},{"k":"m","f":1.45,"s":-35.3},{"k":"m","f":1.6,"s":-35.6},{"k":"m","f":1.75,"s":-35.4},{"k":"m","f":1.92,"s":-35.5},{"k":"m","f":1.97,"s":-33.8},{"k":"m","f":2.02,"s":-35.6},{"k":"m","f":2.15,"s":-35.9},{"k":"m","f":2.3,"s":-35.6},{"k":"m","f":2.45,"s":-36.0},{"k":"m","f":2.6,"s":-35.7},{"k":"m","f":2.75,"s":-35.4},{"k":"m","f":2.88,"s":-34.8},{"k":"m","f":2.96,"s":-33.0},{"k":"m","f":3.02,"s":-25.0},{"k":"m","f":3.07,"s":-10.0},{"k":"m","f":3.12,"s":0.0},{"k":"m","f":3.2,"s":0.0},{"k":"m","f":3.25,"s":-10.0},{"k":"m","f":3.3,"s":-25.0},{"k":"m","f":3.36,"s":-33.0},{"k":"m","f":3.45,"s":-35.0},{"k":"m","f":3.6,"s":-36.2},{"k":"m","f":3.75,"s":-36.6},{"k":"m","f":3.9,"s":-36.8},{"k":"m","f":4.05,"s":-37.0},{"k":"m","f":4.2,"s":-36.8},{"k":"m","f":4.35,"s":-37.2},{"k":"m","f":4.5,"s":-37.0},{"k":"m","f":4.6,"s":-36.8},{"k":"m","f":4.65,"s":-34.3},{"k":"m","f":4.7,"s":-36.9},{"k":"m","f":4.85,"s":-37.3},{"k":"m","f":5.0,"s":-37.0},{"k":"m","f":5.15,"s":-37.4},{"k":"m","f":5.3,"s":-37.1},{"k":"m","f":5.45,"s":-37.5},{"k":"m","f":5.6,"s":-37.2},{"k":"m","f":5.75,"s":-37.4},{"k":"m","f":5.85,"s":-37.0},{"k":"m","f":5.92,"s":-33.0},{"k":"m","f":5.98,"s":-37.0},{"k":"m","f":6.1,"s":-37.5},{"k":"m","f":6.25,"s":-37.2},{"k":"m","f":6.4,"s":-37.4},{"k":"m","f":6.55,"s":-37.0},{"k":"m","f":6.7,"s":-37.3},{"k":"m","f":6.85,"s":-36.9},{"k":"m","f":7.0,"s":-37.1},{"k":"m","f":7.15,"s":-36.7},{"k":"m","f":7.3,"s":-36.8},{"k":"m","f":7.45,"s":-36.4},{"k":"m","f":7.6,"s":-36.5},{"k":"m","f":7.75,"s":-36.0},{"k":"m","f":7.9,"s":-35.6},{"k":"m","f":8.05,"s":-35.0},{"k":"m","f":8.18,"s":-33.8},{"k":"m","f":8.3,"s":-32.0},{"k":"m","f":8.4,"s":-29.5},{"k":"m","f":8.48,"s":-26.0},{"k":"m","f":8.56,"s":-21.0},{"k":"m","f":8.64,"s":-17.0},{"k":"m","f":8.72,"s":-15.4},{"k":"m","f":8.8,"s":-16.0},{"k":"m","f":8.88,"s":-19.5},{"k":"m","f":8.96,"s":-24.5},{"k":"m","f":9.05,"s":-29.0},{"k":"m","f":9.15,"s":-32.5},{"k":"m","f":9.27,"s":-34.8},{"k":"m","f":9.4,"s":-36.3},{"k":"m","f":9.55,"s":-37.2},{"k":"m","f":9.7,"s":-37.8},
{"k":"s","f":-13.6,"s":-28.8},{"k":"s","f":-13.5,"s":-26.0},{"k":"s","f":-13.4,"s":-23.5},{"k":"s","f":-13.3,"s":-21.8},{"k":"s","f":-13.2,"s":-22.5},{"k":"s","f":-13.1,"s":-25.5},{"k":"s","f":-13.0,"s":-28.5},{"k":"s","f":-12.9,"s":-29.7},{"k":"s","f":-12.8,"s":-30.0},{"k":"s","f":-12.7,"s":-30.6},{"k":"s","f":-12.6,"s":-32.0},{"k":"s","f":-12.5,"s":-33.0},{"k":"s","f":-12.4,"s":-33.4}
],
"c2": [
{"f":-15.6,"s":-40},{"f":-12.45,"s":-40},{"f":-12.4,"s":-10.5},{"f":-12.36,"s":-40},{"f":-7.36,"s":-40},{"f":-7.28,"s":-5},{"f":-7.14,"s":-40},{"f":-2.15,"s":-40},{"f":-2.08,"s":0},{"f":-2.04,"s":0},{"f":-1.94,"s":-40},{"f":3.02,"s":-40},{"f":3.06,"s":-1.5},{"f":3.1,"s":-40},{"f":8.14,"s":-40},{"f":8.18,"s":-8.5},{"f":8.23,"s":-40},{"f":10.2,"s":-40}
]
},
"concat": [
{
 "width": 277, "height": 132,
 "layer": [
  {"data": {"name": "a1"}, "mark": {"type": "line", "color": "black", "strokeWidth": 1.3, "clip": true},
   "encoding": {
    "x": {"field": "f", "type": "quantitative", "scale": {"domain": [-15.43, 10], "nice": false, "zero": false},
          "axis": {"values": [-15,-10,-5,0,5,10], "title": null, "labelFont": "Liberation Serif", "labelFontSize": 14, "labelOverlap": false, "tickSize": -4, "labelPadding": 7, "labelExpr": "replace(datum.label, '−', '-')"}},
    "y": {"field": "s", "type": "quantitative", "scale": {"domain": [-40, 0], "nice": false},
          "axis": {"values": [0,-10,-20,-30,-40], "title": "Signal (dB)", "titleFont": "Liberation Serif", "titleFontSize": 17, "titlePadding": 4, "labelFont": "Liberation Serif", "labelFontSize": 14, "labelOverlap": false, "tickSize": -4, "labelPadding": 7, "labelExpr": "replace(datum.label, '−', '-')"}}
   }},
  {"data": {"values": [{"t": "(a1)"}]}, "mark": {"type": "text", "font": "Liberation Serif", "fontSize": 15, "align": "center", "baseline": "middle"},
   "encoding": {
    "x": {"datum": -13.0, "type": "quantitative", "axis": {"values": [-15,-10,-5,0,5,10], "title": null, "labelFont": "Liberation Serif", "labelFontSize": 14, "labelOverlap": false, "tickSize": -4, "labelPadding": 7, "labelExpr": "replace(datum.label, '−', '-')"}},
    "y": {"datum": -4.6, "type": "quantitative", "axis": {"values": [0,-10,-20,-30,-40], "title": "Signal (dB)", "titleFont": "Liberation Serif", "titleFontSize": 17, "titlePadding": 4, "labelFont": "Liberation Serif", "labelFontSize": 14, "labelOverlap": false, "tickSize": -4, "labelPadding": 7, "labelExpr": "replace(datum.label, '−', '-')"}},
    "text": {"field": "t"}}}
 ]
},
{
 "width": 284, "height": 132,
 "layer": [
  {"data": {"name": "a2"}, "mark": {"type": "area", "color": "black", "clip": true},
   "encoding": {
    "x": {"field": "f", "type": "quantitative", "scale": {"domain": [-15.54, 10.12], "nice": false, "zero": false},
          "axis": {"values": [-15,-14,-13,-12,-11,-10,-9,-8,-7,-6,-5,-4,-3,-2,-1,0,1,2,3,4,5,6,7,8,9,10], "title": null, "labelFont": "Liberation Sans", "labelFontSize": 12, "labelOverlap": false, "tickSize": -3, "labelPadding": 7, "labelExpr": "datum.value % 5 === 0 ? replace(datum.label, '−', '− ') : ''"}},
    "y": {"field": "s", "type": "quantitative", "scale": {"domain": [-40, 0], "nice": false},
          "axis": {"values": [0,-10,-20,-30], "title": null, "labelFont": "Liberation Sans", "labelFontSize": 12, "labelOverlap": false, "tickSize": -4, "labelPadding": 10, "labelExpr": "replace(datum.label, '−', '− ')"}},
    "y2": {"datum": -40}
   }},
  {"data": {"values": [{"t": "(a2)"}]}, "mark": {"type": "text", "font": "Liberation Serif", "fontSize": 15, "align": "center", "baseline": "middle"},
   "encoding": {
    "x": {"datum": -13.0, "type": "quantitative", "axis": {"values": [-15,-14,-13,-12,-11,-10,-9,-8,-7,-6,-5,-4,-3,-2,-1,0,1,2,3,4,5,6,7,8,9,10], "title": null, "labelFont": "Liberation Sans", "labelFontSize": 12, "labelOverlap": false, "tickSize": -3, "labelPadding": 7, "labelExpr": "datum.value % 5 === 0 ? replace(datum.label, '−', '− ') : ''"}},
    "y": {"datum": -4.2, "type": "quantitative", "axis": {"values": [0,-10,-20,-30], "title": null, "labelFont": "Liberation Sans", "labelFontSize": 12, "labelOverlap": false, "tickSize": -4, "labelPadding": 10, "labelExpr": "replace(datum.label, '−', '− ')"}},
    "text": {"field": "t"}}}
 ]
},
{
 "width": 277, "height": 132,
 "layer": [
  {"data": {"name": "b1"}, "mark": {"type": "line", "color": "black", "strokeWidth": 1.2, "clip": true},
   "encoding": {
    "x": {"field": "f", "type": "quantitative", "scale": {"domain": [-15.43, 10], "nice": false, "zero": false},
          "axis": {"values": [-15,-10,-5,0,5,10], "title": null, "labelFont": "Liberation Serif", "labelFontSize": 14, "labelOverlap": false, "tickSize": -4, "labelPadding": 7, "labelExpr": "replace(datum.label, '−', '-')"}},
    "y": {"field": "s", "type": "quantitative", "scale": {"domain": [-40, 0], "nice": false},
          "axis": {"values": [0,-10,-20,-30,-40], "title": "Signal (dB)", "titleFont": "Liberation Serif", "titleFontSize": 17, "titlePadding": 4, "labelFont": "Liberation Serif", "labelFontSize": 14, "labelOverlap": false, "tickSize": -4, "labelPadding": 7, "labelExpr": "replace(datum.label, '−', '-')"}},
    "detail": {"field": "k"}
   }},
  {"data": {"values": [{"t": "(b1)"}]}, "mark": {"type": "text", "font": "Liberation Serif", "fontSize": 15, "align": "center", "baseline": "middle"},
   "encoding": {
    "x": {"datum": -13.0, "type": "quantitative", "axis": {"values": [-15,-10,-5,0,5,10], "title": null, "labelFont": "Liberation Serif", "labelFontSize": 14, "labelOverlap": false, "tickSize": -4, "labelPadding": 7, "labelExpr": "replace(datum.label, '−', '-')"}},
    "y": {"datum": -4.6, "type": "quantitative", "axis": {"values": [0,-10,-20,-30,-40], "title": "Signal (dB)", "titleFont": "Liberation Serif", "titleFontSize": 17, "titlePadding": 4, "labelFont": "Liberation Serif", "labelFontSize": 14, "labelOverlap": false, "tickSize": -4, "labelPadding": 7, "labelExpr": "replace(datum.label, '−', '-')"}},
    "text": {"field": "t"}}}
 ]
},
{
 "width": 284, "height": 132,
 "layer": [
  {"data": {"name": "b2"}, "mark": {"type": "area", "color": "black", "clip": true},
   "encoding": {
    "x": {"field": "f", "type": "quantitative", "scale": {"domain": [-15.54, 10.12], "nice": false, "zero": false},
          "axis": {"values": [-15,-14,-13,-12,-11,-10,-9,-8,-7,-6,-5,-4,-3,-2,-1,0,1,2,3,4,5,6,7,8,9,10], "title": null, "labelFont": "Liberation Sans", "labelFontSize": 12, "labelOverlap": false, "tickSize": -3, "labelPadding": 7, "labelExpr": "datum.value % 5 === 0 ? replace(datum.label, '−', '− ') : ''"}},
    "y": {"field": "s", "type": "quantitative", "scale": {"domain": [-40, 0], "nice": false},
          "axis": {"values": [0,-10,-20,-30], "title": null, "labelFont": "Liberation Sans", "labelFontSize": 12, "labelOverlap": false, "tickSize": -4, "labelPadding": 10, "labelExpr": "replace(datum.label, '−', '− ')"}},
    "y2": {"datum": -40}
   }},
  {"data": {"values": [{"t": "(b2)"}]}, "mark": {"type": "text", "font": "Liberation Serif", "fontSize": 15, "align": "center", "baseline": "middle"},
   "encoding": {
    "x": {"datum": -13.0, "type": "quantitative", "axis": {"values": [-15,-14,-13,-12,-11,-10,-9,-8,-7,-6,-5,-4,-3,-2,-1,0,1,2,3,4,5,6,7,8,9,10], "title": null, "labelFont": "Liberation Sans", "labelFontSize": 12, "labelOverlap": false, "tickSize": -3, "labelPadding": 7, "labelExpr": "datum.value % 5 === 0 ? replace(datum.label, '−', '− ') : ''"}},
    "y": {"datum": -3.5, "type": "quantitative", "axis": {"values": [0,-10,-20,-30], "title": null, "labelFont": "Liberation Sans", "labelFontSize": 12, "labelOverlap": false, "tickSize": -4, "labelPadding": 10, "labelExpr": "replace(datum.label, '−', '− ')"}},
    "text": {"field": "t"}}}
 ]
},
{
 "width": 277, "height": 132,
 "layer": [
  {"data": {"name": "c1"}, "mark": {"type": "line", "color": "black", "strokeWidth": 1.3, "clip": true},
   "encoding": {
    "x": {"field": "f", "type": "quantitative", "scale": {"domain": [-15.43, 10], "nice": false, "zero": false},
          "axis": {"values": [-15,-10,-5,0,5,10], "title": "Offset Frequency (GHz)", "titleX": 154, "titleFont": "Liberation Serif", "titleFontSize": 19, "titlePadding": 5, "labelFont": "Liberation Serif", "labelFontSize": 14, "labelOverlap": false, "tickSize": -4, "labelPadding": 7, "labelExpr": "replace(datum.label, '−', '-')"}},
    "y": {"field": "s", "type": "quantitative", "scale": {"domain": [-40, 0], "nice": false},
          "axis": {"values": [0,-10,-20,-30,-40], "title": "Signal (dB)", "titleFont": "Liberation Serif", "titleFontSize": 17, "titlePadding": 4, "labelFont": "Liberation Serif", "labelFontSize": 14, "labelOverlap": false, "tickSize": -4, "labelPadding": 7, "labelExpr": "replace(datum.label, '−', '-')"}},
    "detail": {"field": "k"}
   }},
  {"data": {"values": [{"t": "(c1)"}]}, "mark": {"type": "text", "font": "Liberation Serif", "fontSize": 15, "align": "center", "baseline": "middle"},
   "encoding": {
    "x": {"datum": -13.0, "type": "quantitative", "axis": {"values": [-15,-10,-5,0,5,10], "title": "Offset Frequency (GHz)", "titleX": 154, "titleFont": "Liberation Serif", "titleFontSize": 19, "titlePadding": 5, "labelFont": "Liberation Serif", "labelFontSize": 14, "labelOverlap": false, "tickSize": -4, "labelPadding": 7, "labelExpr": "replace(datum.label, '−', '-')"}},
    "y": {"datum": -4.7, "type": "quantitative", "axis": {"values": [0,-10,-20,-30,-40], "title": "Signal (dB)", "titleFont": "Liberation Serif", "titleFontSize": 17, "titlePadding": 4, "labelFont": "Liberation Serif", "labelFontSize": 14, "labelOverlap": false, "tickSize": -4, "labelPadding": 7, "labelExpr": "replace(datum.label, '−', '-')"}},
    "text": {"field": "t"}}}
 ]
},
{
 "width": 284, "height": 132,
 "layer": [
  {"data": {"name": "c2"}, "mark": {"type": "line", "color": "black", "strokeWidth": 1.5, "clip": true},
   "encoding": {
    "x": {"field": "f", "type": "quantitative", "scale": {"domain": [-15.54, 10.12], "nice": false, "zero": false},
          "axis": {"values": [-15,-14,-13,-12,-11,-10,-9,-8,-7,-6,-5,-4,-3,-2,-1,0,1,2,3,4,5,6,7,8,9,10], "title": "Offset Frequency (GHz)", "titleX": 150, "titleFont": "Liberation Serif", "titleFontSize": 19, "titlePadding": 4, "labelFont": "Liberation Sans", "labelFontSize": 12, "labelOverlap": false, "tickSize": -3, "labelPadding": 7, "labelExpr": "datum.value % 5 === 0 ? replace(datum.label, '−', '− ') : ''"}},
    "y": {"field": "s", "type": "quantitative", "scale": {"domain": [-40, 0], "nice": false},
          "axis": {"values": [0,-10,-20,-30], "title": null, "labelFont": "Liberation Sans", "labelFontSize": 12, "labelOverlap": false, "tickSize": -4, "labelPadding": 10, "labelExpr": "replace(datum.label, '−', '− ')"}}
   }},
  {"data": {"values": [{"t": "(c2)"}]}, "mark": {"type": "text", "font": "Liberation Serif", "fontSize": 15, "align": "center", "baseline": "middle"},
   "encoding": {
    "x": {"datum": -13.0, "type": "quantitative", "axis": {"values": [-15,-14,-13,-12,-11,-10,-9,-8,-7,-6,-5,-4,-3,-2,-1,0,1,2,3,4,5,6,7,8,9,10], "title": "Offset Frequency (GHz)", "titleX": 150, "titleFont": "Liberation Serif", "titleFontSize": 19, "titlePadding": 4, "labelFont": "Liberation Sans", "labelFontSize": 12, "labelOverlap": false, "tickSize": -3, "labelPadding": 7, "labelExpr": "datum.value % 5 === 0 ? replace(datum.label, '−', '− ') : ''"}},
    "y": {"datum": -4.5, "type": "quantitative", "axis": {"values": [0,-10,-20,-30], "title": null, "labelFont": "Liberation Sans", "labelFontSize": 12, "labelOverlap": false, "tickSize": -4, "labelPadding": 10, "labelExpr": "replace(datum.label, '−', '− ')"}},
    "text": {"field": "t"}}}
 ]
}
]
}
